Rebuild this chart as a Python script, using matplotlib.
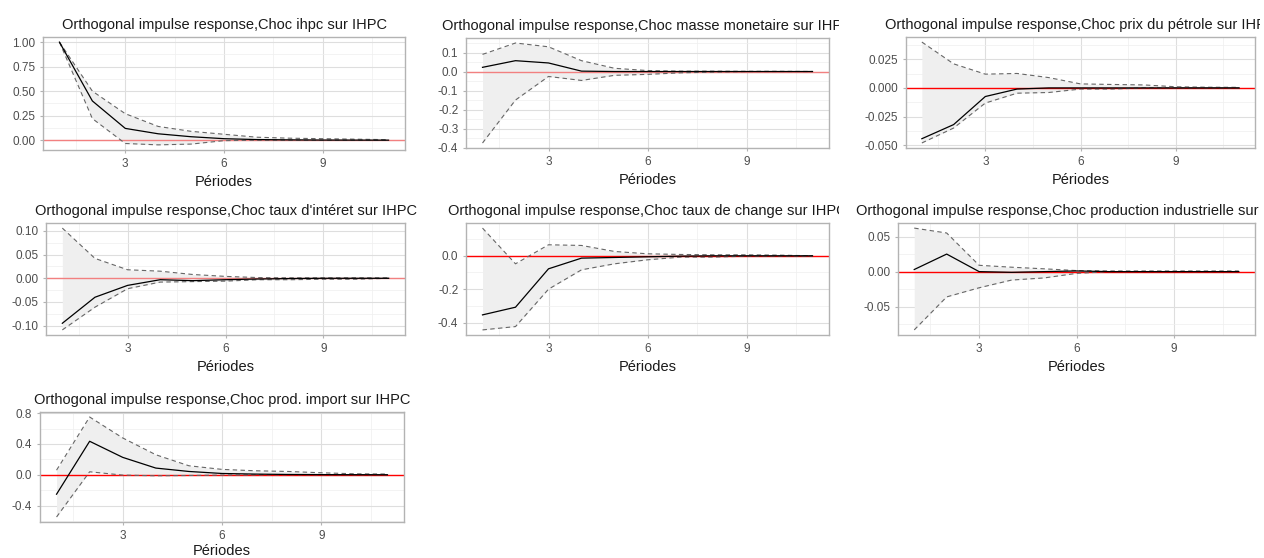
import matplotlib
matplotlib.use("Agg")
import matplotlib.pyplot as plt
from matplotlib.ticker import FixedLocator, MultipleLocator, FormatStrFormatter
from matplotlib.transforms import Bbox, TransformedBbox

plt.rcParams['font.family'] = ['Liberation Sans', 'DejaVu Sans']

## data: orthogonal IRFs with bootstrap bands ##
periodes = list(range(1, 12))

titres = [
    "Orthogonal impulse response,Choc ihpc sur IHPC",
    "Orthogonal impulse response,Choc masse monetaire sur IHPC",
    "Orthogonal impulse response,Choc prix du pétrole sur IHPC",
    "Orthogonal impulse response,Choc taux d'intéret sur IHPC",
    "Orthogonal impulse response,Choc taux de change sur IHPC",
    "Orthogonal impulse response,Choc production industrielle sur IHPC",
    "Orthogonal impulse response,Choc prod. import sur IHPC",
]

irf_ihpc = [1.00, 0.40, 0.12, 0.065, 0.035, 0.015, 0.006, 0.003, 0.001, 0.0005, 0.0]
up_ihpc = [1.00, 0.50, 0.27, 0.14, 0.09, 0.06, 0.03, 0.02, 0.015, 0.01, 0.005]
lo_ihpc = [1.00, 0.22, -0.034, -0.048, -0.04, -0.005, 0.0, 0.0, 0.0, 0.0, 0.0]

irf_masse = [0.022, 0.057, 0.045, 0.002, 0.0, 0.0, 0.0, 0.0, 0.0, 0.0, 0.0]
up_masse = [0.09, 0.15, 0.13, 0.057, 0.017, 0.005, 0.002, 0.002, 0.001, 0.001, 0.0]
lo_masse = [-0.376, -0.15, -0.026, -0.047, -0.02, -0.015, -0.007, -0.003, 0.0, 0.0, 0.0]

irf_petrole = [-0.0443, -0.032, -0.0075, -0.001, 0.0, 0.0, 0.0, 0.0, 0.0, 0.0, 0.0]
up_petrole = [0.040, 0.021, 0.012, 0.0126, 0.009, 0.0035, 0.003, 0.0026, 0.001, 0.0006, 0.0005]
lo_petrole = [-0.048, -0.035, -0.0132, -0.0046, -0.004, -0.001, -0.001, 0.0, 0.0, 0.0, 0.0]

irf_taux = [-0.095, -0.040, -0.015, -0.003, -0.005, -0.003, -0.0015, -0.0005, 0.0, 0.0, 0.0]
up_taux = [0.106, 0.042, 0.018, 0.015, 0.008, 0.004, 0.0015, 0.001, 0.001, 0.001, 0.001]
lo_taux = [-0.109, -0.061, -0.022, -0.008, -0.007, -0.006, -0.003, -0.003, -0.002, -0.002, 0.0]

irf_change = [-0.354, -0.308, -0.078, -0.014, -0.01, -0.006, -0.002, 0.0, 0.0, 0.0, 0.0]
up_change = [0.166, -0.048, 0.066, 0.062, 0.026, 0.012, 0.008, 0.006, 0.006, 0.004, 0.0]
lo_change = [-0.444, -0.424, -0.20, -0.084, -0.048, -0.024, -0.008, -0.008, -0.002, -0.002, -0.002]

irf_prod = [0.003, 0.025, 0.0, -0.001, 0.0, 0.001, 0.0, 0.0, 0.0, 0.0, 0.0]
up_prod = [0.062, 0.055, 0.009, 0.0063, 0.004, 0.0015, 0.001, 0.001, 0.001, 0.001, 0.001]
lo_prod = [-0.083, -0.036, -0.023, -0.012, -0.009, -0.0025, 0.0, 0.0, 0.0, 0.0, 0.0]

irf_import = [-0.252, 0.435, 0.226, 0.087, 0.043, 0.017, 0.009, 0.004, 0.002, 0.001, 0.0]
up_import = [0.06, 0.75, 0.478, 0.26, 0.117, 0.07, 0.052, 0.043, 0.026, 0.013, 0.01]
lo_import = [-0.548, 0.039, -0.004, -0.013, -0.009, -0.004, -0.002, 0.0, 0.0, 0.0, 0.0]

series = [
    (irf_ihpc, up_ihpc, lo_ihpc),
    (irf_masse, up_masse, lo_masse),
    (irf_petrole, up_petrole, lo_petrole),
    (irf_taux, up_taux, lo_taux),
    (irf_change, up_change, lo_change),
    (irf_prod, up_prod, lo_prod),
    (irf_import, up_import, lo_import),
]

yticks = [
    [0.0, 0.25, 0.5, 0.75, 1.0],
    [-0.4, -0.3, -0.2, -0.1, 0.0, 0.1],
    [-0.05, -0.025, 0.0, 0.025],
    [-0.10, -0.05, 0.0, 0.05, 0.10],
    [-0.4, -0.2, 0.0],
    [-0.05, 0.0, 0.05],
    [-0.4, 0.0, 0.4, 0.8],
]
yfmt = ['%.2f', '%.1f', '%.3f', '%.2f', '%.1f', '%.2f', '%.1f']

## layout in pixels (left, right, top, bottom) ##
W, H = 1264, 558
boites = [
    (43, 405, 37, 150), (466, 829, 38, 148), (906, 1255, 37, 148),
    (46, 405, 223, 335), (466, 829, 223, 335), (898, 1255, 223, 335),
    (40, 404, 412, 522),
]
ligne_rouge = ['#f28080', '#f28080', 'red', '#f28080', 'red', 'red', 'red']

fig = plt.figure(figsize=(W / 100, H / 100), dpi=100)

for i, (irf, up, lo) in enumerate(series):
    l, r, t, b = boites[i]
    ax = fig.add_axes([l / W, 1 - b / H, (r - l) / W, (b - t) / H])

    ax.fill_between(periodes, lo, up, color='#efefef', lw=0, zorder=1)
    ax.plot(periodes, up, color='#666666', lw=0.8, ls=(0, (4, 3)), zorder=3)
    ax.plot(periodes, lo, color='#666666', lw=0.8, ls=(0, (4, 3)), zorder=3)
    ax.axhline(0, color=ligne_rouge[i], lw=1.0, zorder=2)
    ax.plot(periodes, irf, color='black', lw=0.9, zorder=4)

    ax.set_xlim(0.5, 11.5)
    ax.margins(y=0.05)
    ax.xaxis.set_major_locator(FixedLocator([3, 6, 9]))
    ax.xaxis.set_minor_locator(FixedLocator([1.5, 4.5, 7.5, 10.5]))
    ax.yaxis.set_major_locator(FixedLocator(yticks[i]))
    step = yticks[i][1] - yticks[i][0]
    ax.yaxis.set_minor_locator(MultipleLocator(step / 2))
    ax.yaxis.set_major_formatter(FormatStrFormatter(yfmt[i]))

    ax.grid(which='major', color='#dedede', lw=0.8, zorder=0)
    ax.grid(which='minor', color='#efefef', lw=0.5, zorder=0)
    ax.set_axisbelow(True)
    for s in ax.spines.values():
        s.set_color('#b3b3b3')
        s.set_linewidth(1.0)
    ax.tick_params(which='major', length=2.5, width=0.8, color='#b3b3b3',
                   labelsize=8.5, labelcolor='#4d4d4d', pad=3)
    ax.tick_params(which='minor', length=0)

    #last row sits on the bottom edge, keep its label inside
    ax.set_xlabel('Périodes', fontsize=10.5, labelpad=4 if i < 6 else 1.5,
                  color='#1a1a1a')

    #titles run past the cell in the original, so clip them to it
    col = i % 3
    cx0, cx1 = col * 421 + 1, col * 421 + 418
    ttl = ax.set_title(titres[i], fontsize=10.5, pad=6, color='#1a1a1a')
    clip = TransformedBbox(Bbox.from_extents(cx0 / W, 0, cx1 / W, 1), fig.transFigure)
    ttl.set_clip_box(clip)
    ttl.set_clip_on(True)

fig.savefig('out.png', dpi=100, facecolor='white')
